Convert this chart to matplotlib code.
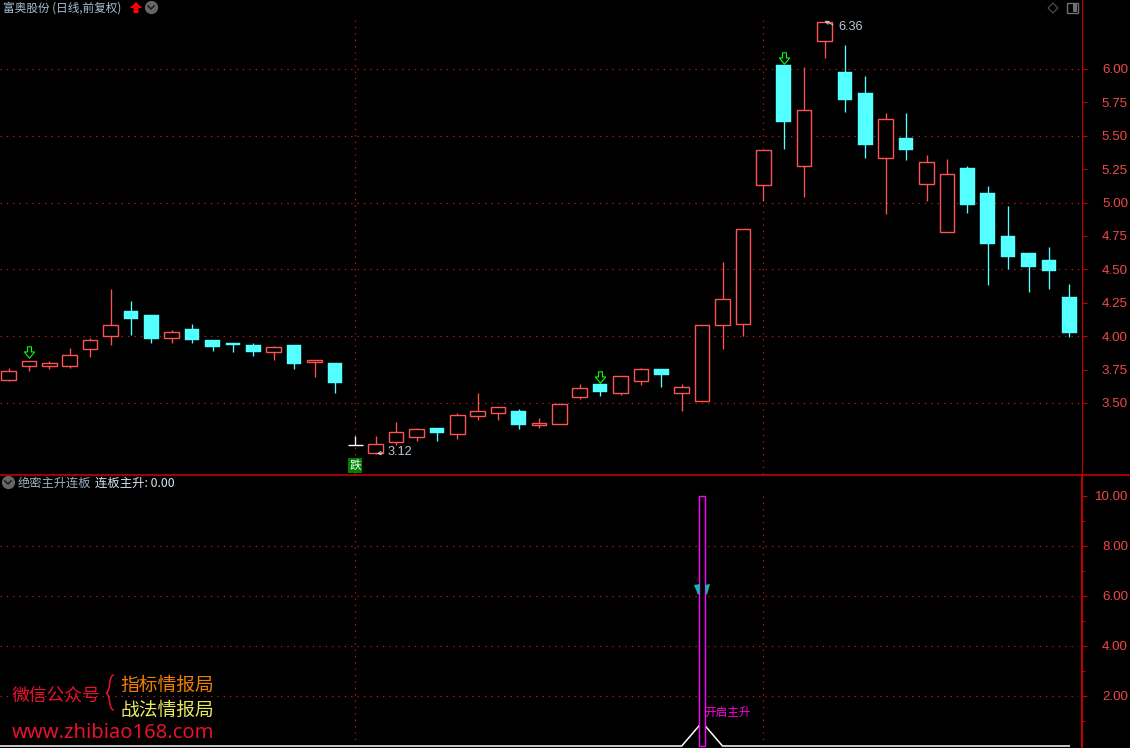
import matplotlib
matplotlib.use("Agg")
import matplotlib.pyplot as plt
from matplotlib.patches import Rectangle, Polygon, PathPatch
from matplotlib.path import Path
from matplotlib.markers import MarkerStyle

plt.rcParams['font.family'] = ['Noto Sans CJK SC', 'DejaVu Sans']

# ---------- data ----------
opens = [3.675,3.780,3.780,3.780,3.902,3.999,4.189,4.159,3.989,4.054,3.972,3.949,3.934,3.884,3.934,3.809,3.799,3.183,
         3.128,3.211,3.248,3.313,3.271,3.405,3.428,3.440,3.338,3.345,3.547,3.642,3.577,3.667,3.755,3.577,3.517,
         4.081,4.089,5.129,6.030,5.271,6.207,5.975,5.818,5.331,5.484,5.137,4.777,5.259,5.069,4.748,4.620,4.568,4.291]
closes = [3.737,3.812,3.797,3.857,3.969,4.081,4.129,3.979,4.029,3.974,3.919,3.937,3.882,3.917,3.794,3.819,3.652,3.183,
          3.191,3.280,3.303,3.275,3.408,3.438,3.468,3.335,3.348,3.490,3.610,3.582,3.700,3.752,3.710,3.617,4.081,
          4.276,4.805,5.391,5.606,5.691,6.354,5.770,5.434,5.628,5.396,5.306,5.217,4.985,4.693,4.595,4.521,4.491,4.027]
highs = [3.762,3.812,3.814,3.909,3.984,4.353,4.264,4.159,4.046,4.091,3.972,3.949,3.949,3.927,3.934,3.819,3.799,3.253,
         3.253,3.358,3.313,3.313,3.425,3.575,3.468,3.455,3.388,3.497,3.642,3.642,3.700,3.762,3.755,3.642,4.081,
         4.556,4.805,5.391,6.030,6.013,6.360,6.177,5.945,5.668,5.668,5.354,5.324,5.274,5.124,4.975,4.620,4.665,4.388]
lows = [3.665,3.742,3.757,3.762,3.847,3.937,4.012,3.952,3.952,3.952,3.892,3.882,3.852,3.824,3.754,3.697,3.577,3.183,
        3.120,3.186,3.216,3.216,3.233,3.373,3.373,3.305,3.313,3.345,3.530,3.552,3.560,3.635,3.620,3.440,3.517,
        3.907,4.004,5.009,5.404,5.044,6.085,5.681,5.336,4.917,5.321,5.015,4.777,4.925,4.386,4.503,4.333,4.356,3.997]
signal_idx = [1, 29, 38]
signal_price = [3.878, 3.698, 6.086]
price_ticks = [3.50, 3.75, 4.00, 4.25, 4.50, 4.75, 5.00, 5.25, 5.50, 5.75, 6.00]
price_grid = [3.5, 4.0, 4.5, 5.0, 5.5, 6.0]
price_minor = [3.75, 4.25, 4.75, 5.25, 5.75]
vline_idx = [17, 37]
ind_ticks = [2, 4, 6, 8, 10]
ind_minor = [1, 3, 5, 7, 9]
ind_grid = [2, 4, 6, 8]
line_idx = [-1, 33, 34, 35, 52]
line_val = [0, 0, 0.95, 0, 0]
bar_idx = 34
bar_val = 10
low_idx, low_val = 18, 3.12
high_idx, high_val = 40, 6.36

RED = '#FF5252'
CYAN = '#54FFFF'
AXIS = '#C80000'
GRID = '#B81818'
TICK = '#F04848'
TXT = '#A9C0D6'
W, H = 1130, 748

fig = plt.figure(figsize=(W/100, H/100), dpi=100, facecolor='black')
AX_W = 1082 / W
ax1 = fig.add_axes([0, (H-474)/H, AX_W, 474/H], facecolor='black')
ax2 = fig.add_axes([0, 0, AX_W, (H-475)/H], facecolor='black')
XL = (-8.5/20.4, (1082-8.5)/20.4)
ax1.set_xlim(*XL); ax2.set_xlim(*XL)
ax1.set_ylim(6 - 405/133.6, 6 + 69/133.6)
ax2.set_ylim(-0.08, 10.84)

def px(x, y):
    return (x/W, 1 - y/H)

# ---------- axes styling ----------
for ax, ticks, minor in ((ax1, price_ticks, price_minor), (ax2, ind_ticks, ind_minor)):
    ax.set_xticks([])
    for s in ('left', 'top', 'bottom'):
        ax.spines[s].set_visible(False)
    ax.spines['right'].set_color(AXIS)
    ax.yaxis.tick_right()
    ax.set_yticks(ticks)
    ax.set_yticklabels(['%.2f' % t for t in ticks], fontsize=9.6, color=TICK,
                       family=['Liberation Sans'], ha='right')
    ax.set_yticks(minor, minor=True)
    ax.tick_params(axis='y', which='major', length=3.6, width=0.75, color=AXIS, pad=29.5)
    ax.tick_params(axis='y', which='minor', length=2.0, width=0.75, color=AXIS)
ax1.spines['right'].set_linewidth(0.8)
ax2.spines['right'].set_linewidth(1.4)

# separator
fig.add_artist(plt.Line2D([0, 1], [1-474.5/H]*2, color='#D00000', lw=1.1))

# grid
DOT = (0, (1.2, 4.2))
ax1.hlines(price_grid, XL[0], XL[1], colors=GRID, lw=0.85, linestyles=[DOT], zorder=1)
ax1.vlines(vline_idx, 2.97, 6.37, colors=GRID, lw=0.85, linestyles=[DOT], zorder=1)
ax2.hlines(ind_grid, XL[0], 52.45, colors=GRID, lw=0.85, linestyles=[DOT], zorder=1)
ax2.vlines(vline_idx, 0, 10, colors=GRID, lw=0.85, linestyles=[DOT], zorder=1)

# ---------- candles ----------
BW = 0.72
for i, (o, c, h, l) in enumerate(zip(opens, closes, highs, lows)):
    if o == c:
        col = 'white'
    elif c > o:
        col = RED
    else:
        col = CYAN
    ax1.vlines(i, l, h, colors=col, lw=0.95, zorder=2)
    bot, top = min(o, c), max(o, c)
    if o == c:
        ax1.hlines(o, i-0.36, i+0.36, colors=col, lw=1.0, zorder=3)
    elif c > o:
        ax1.add_patch(Rectangle((i-BW/2, bot), BW, top-bot, fc='black', ec=col, lw=1.0, zorder=3))
    else:
        ax1.add_patch(Rectangle((i-BW/2, bot), BW, top-bot, fc=col, ec=col, lw=0.3, zorder=3))

# signal arrows
arrow = Path([(-0.35, 1), (0.35, 1), (0.35, 0.1), (0.9, 0.1), (0, -1), (-0.9, 0.1), (-0.35, 0.1), (-0.35, 1)], closed=True)
ax1.plot(signal_idx, signal_price, ls='none', marker=MarkerStyle(arrow), ms=8.2, mfc='none', mec='#00FF00', mew=0.8, zorder=4)

# high / low labels
for idx, val, off, tx, ty in ((low_idx, low_val, 0.05, 388, 452), (high_idx, high_val, 0.0, 838, 27)):
    ax1.annotate('%.2f' % val, xy=(idx + off, val),
                 xytext=(tx/W, 1-ty/H), textcoords='figure fraction', va='center', ha='left',
                 fontsize=9.2, color='#B8C8D8', family=['Liberation Sans'],
                 arrowprops=dict(arrowstyle='->,head_width=0.12,head_length=0.25', color='#C8C8C8', lw=0.8,
                                 relpos=(0, 0.5), shrinkA=2, shrinkB=0), zorder=6)

ax1.text(17, 3.030, '跌', ha='center', va='center', fontsize=8.4, color='white', zorder=6,
         bbox=dict(boxstyle='square,pad=0.1', fc='#008000', ec='none'))

# ---------- indicator panel ----------
ax2.plot(line_idx, line_val, color='white', lw=1.1, zorder=3)
for pts in ([(694, 585), (700, 584), (699.5, 594.5), (698, 594.5)],
            [(705, 585), (710, 584), (707, 594.5), (706, 594.5)]):
    fig.add_artist(Polygon([px(*p) for p in pts], closed=True, fc='#18B4B4', ec='none', transform=fig.transFigure, zorder=3))
ax2.bar([bar_idx], [bar_val], width=6/20.4, fc='black', ec='#FF00FF', lw=1.0, zorder=4)
fig.text(704/W, 1-712/H, '开启主升', color='#FF00E0', fontsize=8.4, va='center', ha='left', zorder=6)

# ---------- header text ----------
fig.text(3/W, 1-8.5/H, '富奥股份 (日线,前复权)', color=TXT, fontsize=8.4, va='center', ha='left')
fig.text(18/W, 1-483.5/H, '绝密主升连板', color='#9FB0C0', fontsize=8.8, va='center', ha='left')
fig.text(95/W, 1-483.5/H, '连板主升: 0.00', color='#D8E4F0', fontsize=8.9, va='center', ha='left')

fig.add_artist(Polygon([px(*p) for p in [(136, 2), (142, 8), (138.5, 8), (138.5, 13), (133.5, 13), (133.5, 8), (130, 8)]],
                       closed=True, fc='#FF0000', ec='none', transform=fig.transFigure))

def round_icon(cx, cy):
    fig.add_artist(plt.Line2D([cx/W], [1-cy/H], marker='o', ms=8.5, mfc='#666666', mec='#666666'))
    fig.add_artist(plt.Line2D([(cx-3)/W, cx/W, (cx+3)/W], [1-(cy-1)/H, 1-(cy+2)/H, 1-(cy-1)/H], color='#1A1A1A', lw=1.1))
round_icon(151, 7)
round_icon(8, 482)

fig.add_artist(Polygon([px(*p) for p in [(1053, 3), (1058, 8), (1053, 13), (1048, 8)]], closed=True,
                       fc='none', ec='#555555', lw=0.8, transform=fig.transFigure))
fig.add_artist(Rectangle(px(1067, 13), 11/W, 10/H, fc='none', ec='#707070', lw=1.0, transform=fig.transFigure))
fig.add_artist(Rectangle(px(1073, 12), 4/W, 8/H, fc='#707070', ec='none', transform=fig.transFigure))

# ---------- watermark ----------
fig.text(12/W, 1-696/H, '微信公众号', color='#E8112D', fontsize=12.8, va='center', ha='left', zorder=6)
fig.text(120/W, 1-685.5/H, '指标情报局', color='#F08000', fontsize=13.5, va='center', ha='left', zorder=6)
fig.text(120/W, 1-710.5/H, '战法情报局', color='#E8E860', fontsize=13.5, va='center', ha='left', zorder=6)
fig.text(12/W, 1-733/H, 'www.zhibiao168.com', color='#E8112D', fontsize=14.5, va='center', ha='left',
         family=['Noto Sans'], zorder=6)
brace = Path([px(114, 675), px(108, 675), px(111, 692), px(106, 693),
              px(111, 694), px(108, 710), px(114, 710)],
             [Path.MOVETO, Path.CURVE4, Path.CURVE4, Path.CURVE4, Path.CURVE4, Path.CURVE4, Path.CURVE4])
fig.add_artist(PathPatch(brace, fc='none', ec='#E8112D', lw=1.1, transform=fig.transFigure))

fig.savefig('out.png', dpi=100, facecolor='black')
